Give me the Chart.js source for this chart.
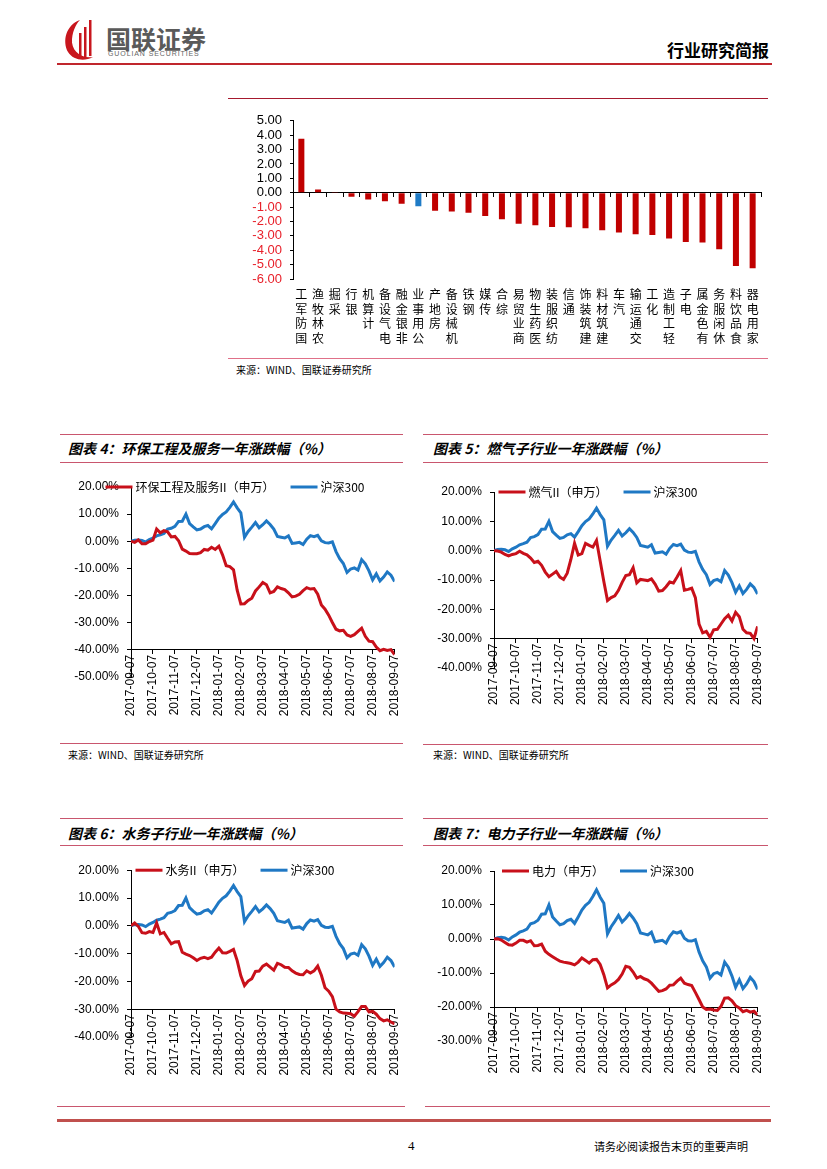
<!DOCTYPE html>
<html><head><meta charset="utf-8">
<script src="https://cdn.jsdelivr.net/npm/chart.js@4.4.1/dist/chart.umd.min.js"></script>
<style>
html,body{margin:0;padding:0;background:#fff}
body{width:827px;height:1169px;position:relative;overflow:hidden;font-family:"Noto Sans CJK SC","Noto Sans",sans-serif;color:#000}
.a{position:absolute;white-space:nowrap}
.ln{position:absolute;height:0}
.tl{border-top:1.5px solid #C9566E}
.ttl{font-size:14px;font-weight:bold;font-style:italic;line-height:18px}
.src{font-size:10px;line-height:12px}
canvas{position:absolute}
</style></head><body>

<svg class="a" style="left:60px;top:17px" width="44" height="46" viewBox="0 0 44 46">
<path d="M20 3 C6 8 2 24 8 35 C13 43 24 45 33 40 C20 42 11 33 12 22 C13 12 17 6 20 3 Z" fill="#C8161D"/>
<rect x="19" y="16" width="2.5" height="26" fill="#C8161D"/>
<rect x="24" y="10" width="2.5" height="31" fill="#C8161D"/>
<rect x="29" y="3" width="2.5" height="36" fill="#C8161D"/>
</svg>
<div class="a" style="left:106px;top:24px;font-size:25px;line-height:28px;font-weight:bold;color:#5a5a5a;letter-spacing:0px">国联证券</div>
<div class="a" style="left:108px;top:50px;font-size:7px;line-height:8px;color:#666;letter-spacing:0.9px;font-family:'Liberation Sans',Arial">GUOLIAN SECURITIES</div>
<div class="a" style="left:667px;top:39px;font-size:17px;line-height:22px;font-weight:bold">行业研究简报</div>
<div class="ln" style="left:57px;top:63px;width:715px;border-top:2px solid #C0262D"></div>

<div class="ln" style="left:228px;top:98px;width:540px;border-top:1px solid #A6192E"></div>
<canvas id="c0" width="540" height="250" style="left:228px;top:105px"></canvas>
<div class="ln" style="left:228px;top:358px;width:540px;border-top:1px solid #E07088"></div>
<div class="a src" style="left:236px;top:364px">来源：WIND、国联证券研究所</div>

<div class="ln tl" style="left:60px;top:434px;width:343px"></div>
<div class="a ttl" style="left:68px;top:439px">图表 4：环保工程及服务一年涨跌幅（%）</div>
<div class="ln tl" style="left:60px;top:462px;width:343px"></div>
<canvas id="c4" width="350" height="260" style="left:60px;top:470px"></canvas>
<div class="ln tl" style="left:60px;top:743px;width:343px"></div>
<div class="a src" style="left:68px;top:749px">来源：WIND、国联证券研究所</div>

<div class="ln tl" style="left:423px;top:434px;width:345px"></div>
<div class="a ttl" style="left:433px;top:439px">图表 5：燃气子行业一年涨跌幅（%）</div>
<div class="ln tl" style="left:423px;top:462px;width:345px"></div>
<canvas id="c5" width="350" height="260" style="left:423px;top:470px"></canvas>
<div class="ln tl" style="left:423px;top:744px;width:345px"></div>
<div class="a src" style="left:433px;top:749px">来源：WIND、国联证券研究所</div>

<div class="ln tl" style="left:60px;top:818px;width:343px"></div>
<div class="a ttl" style="left:68px;top:824px">图表 6：水务子行业一年涨跌幅（%）</div>
<div class="ln tl" style="left:60px;top:845px;width:343px"></div>
<canvas id="c6" width="350" height="235" style="left:60px;top:855px"></canvas>

<div class="ln tl" style="left:423px;top:818px;width:345px"></div>
<div class="a ttl" style="left:433px;top:824px">图表 7：电力子行业一年涨跌幅（%）</div>
<div class="ln tl" style="left:423px;top:845px;width:345px"></div>
<canvas id="c7" width="350" height="235" style="left:423px;top:855px"></canvas>

<div class="ln" style="left:57px;top:1106px;width:348px;border-top:1px solid #C9566E"></div>
<div class="ln" style="left:425px;top:1106px;width:345px;border-top:1px solid #C9566E"></div>
<div class="ln" style="left:57px;top:1119px;width:714px;border-top:3px solid #C0504D"></div>
<div class="a" style="left:408px;top:1138px;font-size:13px;line-height:16px;font-family:'Liberation Serif',serif">4</div>
<div class="a" style="left:594px;top:1139px;font-size:11px;line-height:14px">请务必阅读报告末页的重要声明</div>

<script>
// ---------- data ----------
const barCats = ['国防军工','农林牧渔','采掘','银行','计算机','电气设备','非银金融','公用事业','房地产','机械设备','钢铁','传媒','综合','商业贸易','医药生物','纺织服装','通信','建筑装饰','建筑材料','汽车','交通运输','化工','轻工制造','电子','有色金属','休闲服务','食品饮料','家用电器'];
const barVals = [3.75,0.23,0.05,-0.28,-0.47,-0.6,-0.77,-0.95,-1.26,-1.31,-1.4,-1.62,-1.85,-2.16,-2.26,-2.38,-2.4,-2.47,-2.61,-2.77,-2.89,-2.94,-3.19,-3.43,-3.47,-3.94,-5.1,-5.25];
const barHighlight = '公用事业';

const dateLabels = ['2017-09-07','2017-10-07','2017-11-07','2017-12-07','2018-01-07','2018-02-07','2018-03-07','2018-04-07','2018-05-07','2018-06-07','2018-07-07','2018-08-07','2018-09-07'];
const pointsPerMonth = 6;

const hs300 = [0,0.4,0.5,0.3,-0.3,0.6,1.2,2.0,2.4,2.9,
 4.5,4.8,5.5,7.3,7.4,10.0,6.5,5.3,4.2,4.5,
 5.4,5.8,4.6,6.5,8.5,9.9,10.8,12.5,14.5,12.3,
 10.5,1.5,3.6,5.2,6.9,5.0,6.1,7.5,6.2,4.5,
 1.8,1.5,1.2,2.0,-0.8,-0.6,-0.4,-1.2,0.8,2.1,
 1.7,2.2,0.2,-0.5,-0.6,-0.2,-3.8,-6.4,-8.2,-11.5,
 -10.2,-9.8,-10.6,-6.8,-8.3,-10.9,-14.2,-12.0,-14.6,-13.2,
 -11.3,-12.5,-14.8];
const huanbao = [0,-0.4,0.5,-0.9,-0.9,-0.1,0.4,4.5,3.1,3.9,
 3.5,1.6,1.8,0.2,-2.9,-3.6,-4.5,-4.6,-4.6,-4.2,
 -3.0,-3.3,-2.2,-3.0,-1.8,-5.0,-9.0,-9.3,-10.5,-18.0,
 -23.1,-23.0,-21.8,-21.0,-18.3,-16.8,-15.2,-16.0,-19.0,-18.5,
 -16.8,-17.4,-17.8,-19.0,-20.5,-20.2,-19.5,-18.2,-17.1,-17.6,
 -17.4,-19.5,-23.5,-25.0,-27.2,-29.9,-32.4,-33.0,-32.8,-34.5,
 -35.0,-34.4,-33.2,-32.0,-35.0,-36.8,-37.0,-39.0,-40.3,-39.8,
 -40.2,-39.9,-41.8];
const ranqi = [0,-0.1,-0.5,-1.3,-1.8,-1.3,-1.0,-0.2,-0.9,-1.4,
 -2.5,-4.0,-3.6,-5.0,-7.3,-8.9,-8.0,-7.1,-9.0,-9.8,
 -7.7,-3.0,2.5,-1.5,-1.0,2.5,1.8,1.2,3.5,-3.5,
 -10.5,-17.0,-16.0,-15.4,-13.5,-10.8,-8.5,-8.2,-5.8,-11.0,
 -9.8,-10.0,-10.2,-9.6,-11.4,-13.8,-13.6,-12.3,-10.7,-11.0,
 -9.0,-6.8,-13.5,-13.2,-12.8,-16.0,-25.0,-28.0,-27.5,-29.5,
 -27.0,-26.8,-25.0,-23.2,-22.0,-24.0,-21.0,-22.5,-26.8,-28.0,
 -28.2,-30.0,-25.8];
const shuiwu = [0,1.0,-0.2,-2.5,-2.7,-2.1,-2.4,1.0,-2.9,-2.4,
 -4.5,-6.5,-5.8,-5.7,-9.5,-10.2,-10.7,-11.5,-12.5,-11.7,
 -11.3,-11.8,-11.3,-9.5,-8.0,-9.7,-9.8,-9.2,-8.5,-12.5,
 -18.0,-21.5,-19.9,-19.0,-16.4,-16.3,-14.5,-13.8,-14.9,-16.0,
 -13.5,-14.0,-14.9,-15.0,-16.2,-17.0,-17.5,-17.6,-16.2,-17.0,
 -16.2,-14.5,-17.8,-22.3,-23.5,-25.5,-30.0,-31.0,-31.4,-31.5,
 -31.6,-32.5,-30.9,-29.0,-29.0,-31.0,-30.8,-31.8,-33.4,-34.2,
 -33.8,-34.6,-35.3];
const dianli = [0,0.1,-0.3,-1.0,-1.7,-1.8,-1.2,-0.4,-0.4,-0.9,
 -0.5,-2.0,-1.9,-1.5,-3.6,-4.5,-5.2,-5.9,-6.5,-6.8,
 -7.0,-7.2,-7.6,-6.8,-5.6,-6.3,-7.1,-6.1,-6.0,-7.5,
 -10.5,-14.4,-13.5,-12.9,-11.9,-10.3,-8.0,-8.3,-9.7,-11.5,
 -11.0,-11.7,-12.1,-13.0,-14.2,-15.4,-15.2,-14.7,-13.6,-13.5,
 -12.4,-11.5,-13.0,-13.4,-13.7,-15.7,-17.8,-20.0,-20.7,-20.6,
 -20.9,-21.0,-19.8,-17.4,-17.3,-18.2,-19.6,-20.3,-21.4,-21.0,
 -21.5,-21.2,-22.3];

// ---------- styles ----------
const RED = '#C8101A', BLUE = '#1F78C4', BAR_RED = '#C00000', BAR_BLUE = '#1F7BC6';
const NUM_FONT = "'Liberation Sans', Arial, sans-serif";
const CJK_FONT = "'Noto Sans CJK SC', sans-serif";

const inlineLegend = {
  id: 'inlineLegend',
  afterDraw(chart) {
    const ctx = chart.ctx, ds = chart.data.datasets;
    ctx.save();
    ctx.font = '12px ' + CJK_FONT;
    const lineLen = 27, g1 = 3, g2 = 16;
    const w = ds.map(d => ctx.measureText(d.label).width);
    const total = w.reduce((s, v) => s + lineLen + g1 + v, 0) + g2 * (ds.length - 1);
    let x = (chart.width - total) / 2;
    const y = chart.chartArea.top;
    ds.forEach((d, i) => {
      ctx.strokeStyle = d.borderColor; ctx.lineWidth = 3;
      ctx.beginPath(); ctx.moveTo(x, y); ctx.lineTo(x + lineLen, y); ctx.stroke();
      x += lineLen + g1;
      ctx.fillStyle = '#000'; ctx.textBaseline = 'middle'; ctx.textAlign = 'left';
      ctx.fillText(d.label, x, y);
      x += w[i] + g2;
    });
    ctx.restore();
  }
};

// ---------- bar chart ----------
new Chart(document.getElementById('c0'), {
  type: 'bar',
  data: {
    labels: barCats,
    datasets: [{
      data: barVals,
      backgroundColor: barCats.map(c => c === barHighlight ? BAR_BLUE : BAR_RED),
      barPercentage: 0.36, categoryPercentage: 1
    }]
  },
  options: {
    responsive: false, animation: false, events: [],
    layout: { padding: { top: 15, right: 7, bottom: 0, left: 0 } },
    plugins: { legend: { display: false }, tooltip: { enabled: false } },
    scales: {
      x: {
        type: 'category', position: { y: 0 }, offset: true,
        border: { display: true, color: '#000', width: 1 },
        grid: { display: true, offset: true, drawOnChartArea: false, drawTicks: true, tickLength: 4, color: '#000' },
        ticks: { display: false }
      },
      x2: {
        type: 'category', axis: 'x', position: 'bottom', offset: true,
        border: { display: false }, grid: { display: false, drawTicks: false },
        ticks: {
          autoSkip: false, maxRotation: 0, minRotation: 0, padding: 8, color: '#000',
          font: { size: 12, family: CJK_FONT, lineHeight: 1.22 },
          callback: (v, i) => Array.from(barCats[i]).reverse()
        },
        afterFit(s) { s.height = 76; }
      },
      y: {
        min: -6, max: 5,
        border: { display: true, color: '#000', width: 1 },
        grid: { display: true, drawOnChartArea: false, drawTicks: true, tickLength: 3, color: '#000' },
        ticks: {
          stepSize: 1, autoSkip: false, padding: 8, font: { size: 13, family: NUM_FONT },
          color: c => c.tick.value < 0 ? '#E8202A' : '#000',
          callback: v => v.toFixed(2)
        },
        afterFit(s) { s.width = 65; }
      }
    }
  }
});

// ---------- line charts ----------
function toXY(vals) { return vals.map((v, i) => ({ x: i / pointsPerMonth, y: v })); }

function lineChart(id, redLabel, redVals, yMin, axisAt, padTop, padBottom) {
  new Chart(document.getElementById(id), {
    type: 'line',
    data: {
      datasets: [
        { label: redLabel, data: toXY(redVals), borderColor: RED, borderWidth: 3, pointRadius: 0, tension: 0 },
        { label: '沪深300', data: toXY(hs300), borderColor: BLUE, borderWidth: 3, pointRadius: 0, tension: 0 }
      ]
    },
    options: {
      responsive: false, animation: false, events: [],
      layout: { padding: { top: padTop, right: 10, bottom: padBottom, left: 0 } },
      plugins: { legend: { display: false }, tooltip: { enabled: false } },
      scales: {
        x: {
          type: 'linear', min: 0, max: dateLabels.length - 1, position: { y: axisAt },
          border: { display: true, color: '#000', width: 1 },
          grid: { display: true, drawOnChartArea: false, drawTicks: true, tickLength: 4, color: '#000' },
          ticks: {
            stepSize: 1, autoSkip: false, maxRotation: 90, minRotation: 90, padding: 1, color: '#000',
            font: { size: 12, family: NUM_FONT },
            callback: (v, i) => dateLabels[i]
          }
        },
        y: {
          min: yMin, max: 20,
          border: { display: true, color: '#000', width: 1 },
          grid: { display: true, drawOnChartArea: false, drawTicks: true, tickLength: 4, color: '#000' },
          ticks: {
            stepSize: 10, autoSkip: false, padding: 8, color: '#000', font: { size: 12, family: NUM_FONT },
            callback: v => v.toFixed(2) + '%'
          },
          afterFit(s) { s.width = 71; }
        }
      }
    },
    plugins: [inlineLegend]
  });
}

lineChart('c4', '环保工程及服务II（申万）', huanbao, -50, -40, 17, 53);
lineChart('c5', '燃气II（申万）', ranqi, -40, -30, 22, 62);
lineChart('c6', '水务II（申万）', shuiwu, -40, -30, 14, 53);
lineChart('c7', '电力（申万）', dianli, -30, -20, 16, 49);
</script>
</body></html>
